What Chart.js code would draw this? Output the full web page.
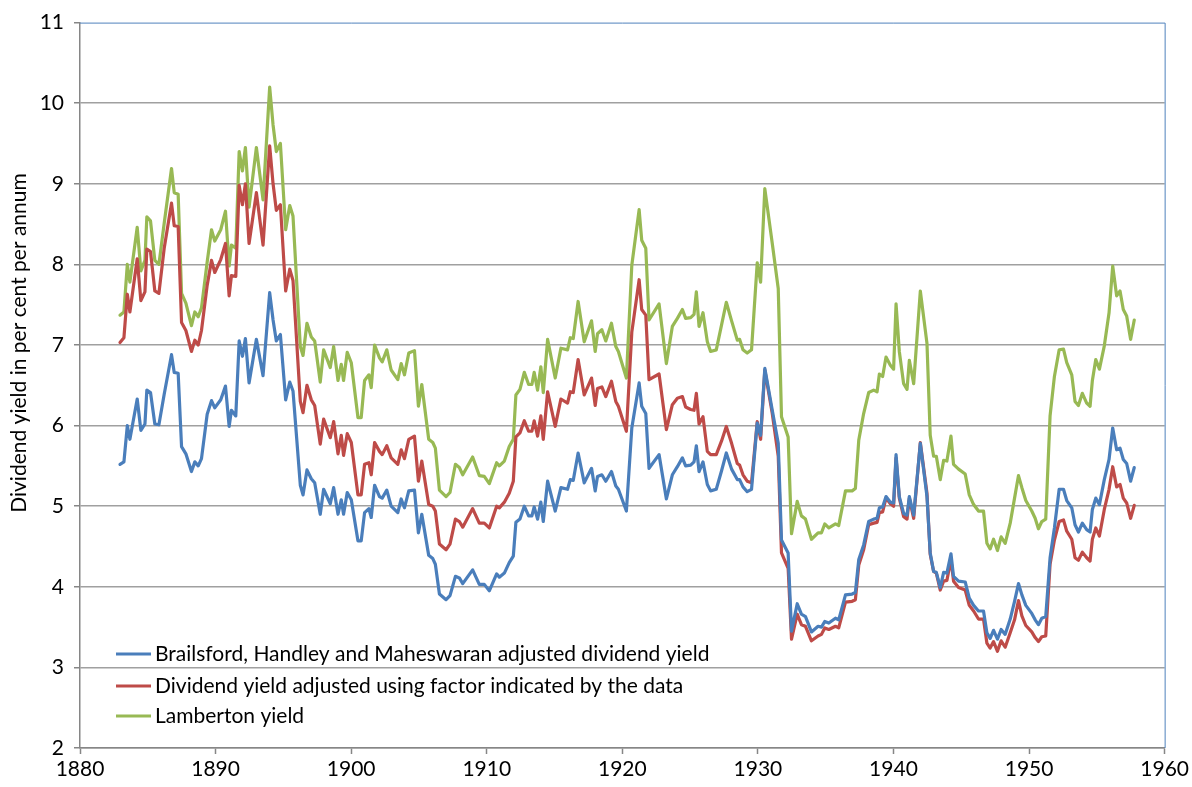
<!DOCTYPE html>
<html lang="en">
<head>
    <meta charset="UTF-8">
    <title>Dividend yield</title>
    <script src="https://cdn.jsdelivr.net/npm/chart.js@4.4.1/dist/chart.umd.min.js"></script>
    <style>
        body{ margin: 0; background: #fff; }
        #wrap{ width: 1192px; height: 787px; }
    </style>
</head>
<body>
<div id="wrap"><canvas id="myChart"></canvas></div>
<script>
    // years (decimal)
    var years = [
        1882.95,1883.24,1883.49,1883.68,1884.22,1884.49,1884.79,1884.93,1885.2,1885.52,
        1885.82,1886.21,1886.75,1886.95,1887.24,1887.49,1887.81,1888.22,1888.47,1888.72,
        1888.96,1889.38,1889.7,1889.94,1890.38,1890.73,1891.0,1891.17,1891.49,1891.74,
        1891.98,1892.2,1892.47,1893.01,1893.5,1893.99,1894.24,1894.48,1894.78,1895.17,
        1895.47,1895.71,1896.25,1896.45,1896.74,1897.06,1897.31,1897.72,1897.97,1898.46,
        1898.71,1899.03,1899.27,1899.44,1899.71,1900.01,1900.5,1900.74,1900.99,1901.31,
        1901.48,1901.73,
        1902.09,1902.29,1902.63,1902.95,1903.44,1903.69,1903.93,1904.25,1904.67,1904.96,
        1905.21,1905.72,1906.02,1906.21,1906.51,1907.0,1907.29,1907.69,1907.98,1908.23,
        1908.96,1909.45,1909.82,1910.19,1910.73,1910.93,1911.3,1911.66,1911.96,1912.15,
        1912.45,1912.77,1913.09,1913.33,1913.5,1913.75,1913.99,1914.17,1914.49,1915.05,
        1915.47,1915.96,1916.16,1916.38,1916.74,1917.19,1917.73,1918.0,1918.17,1918.49,
        1918.78,1919.2,1919.52,1919.71,1920.3,1920.7,1921.24,1921.43,1921.73,1921.97,
        1922.71,
        1923.25,1923.69,1924.06,1924.43,1924.67,1925.04,1925.29,1925.46,1925.66,1925.95,
        1926.27,1926.51,1926.93,1927.32,1927.67,1928.06,1928.48,1928.65,1928.9,1929.21,
        1929.53,1929.95,1930.2,1930.51,1931.06,1931.5,1931.74,1932.23,1932.48,1932.9,
        1933.21,1933.51,1933.95,1934.44,1934.69,1934.93,1935.23,1935.72,1935.96,1936.46,
        1936.95,1937.19,1937.44,1937.8,1938.17,1938.54,1938.79,1938.96,1939.2,1939.45,
        1939.77,1940.01,1940.19,1940.43,1940.75,1941.0,1941.17,1941.49,1941.98,1942.47,
        1942.71,1942.96,1943.16,
        1943.45,1943.7,1943.94,1944.24,1944.43,1944.8,1945.29,1945.59,1945.91,1946.27,
        1946.64,1946.89,1947.13,1947.38,1947.67,1947.94,1948.24,1948.61,1948.93,1949.22,
        1949.47,1949.76,1950.2,1950.45,1950.69,1950.94,1951.23,1951.55,1951.87,1952.22,
        1952.54,1952.78,1953.15,1953.39,1953.64,1953.93,1954.25,1954.5,1954.67,1954.92,
        1955.19,1955.55,1955.9,1956.17,1956.46,1956.71,1956.95,1957.2,1957.49,1957.76
    ];

    // Brailsford, Handley and Maheswaran adjusted dividend yield
    var bhmYield = [
        5.52,5.55,6.0,5.83,6.33,5.94,6.02,6.44,6.41,6.02,
        6.01,6.39,6.88,6.66,6.65,5.74,5.65,5.43,5.55,5.5,
        5.59,6.14,6.31,6.22,6.32,6.49,5.99,6.19,6.12,7.05,
        6.86,7.08,6.53,7.07,6.62,7.65,7.31,7.05,7.13,6.32,
        6.54,6.43,5.26,5.14,5.45,5.34,5.29,4.9,5.21,5.03,
        5.23,4.9,5.08,4.9,5.17,5.08,4.57,4.57,4.92,4.97,
        4.86,5.26,
        5.12,5.10,5.2,5.0,4.92,5.09,4.98,5.19,5.2,4.67,
        4.9,4.39,4.35,4.28,3.91,3.84,3.89,4.13,4.11,4.04,
        4.21,4.03,4.03,3.95,4.16,4.12,4.17,4.3,4.38,4.8,
        4.84,5.0,4.88,4.88,4.99,4.84,5.05,4.81,5.31,4.94,
        5.23,5.21,5.33,5.32,5.66,5.29,5.47,5.19,5.37,5.39,
        5.31,5.43,5.25,5.21,4.94,5.97,6.53,6.24,6.15,5.47,
        5.64,
        5.09,5.39,5.49,5.6,5.5,5.51,5.55,5.75,5.43,5.55,
        5.27,5.19,5.21,5.44,5.66,5.46,5.33,5.33,5.24,5.18,
        5.21,6.03,5.88,6.71,6.19,5.78,4.58,4.42,3.45,3.79,
        3.66,3.63,3.44,3.51,3.5,3.57,3.55,3.61,3.59,3.9,
        3.91,3.93,4.34,4.52,4.81,4.84,4.85,4.98,4.99,5.12,
        5.05,5.04,5.64,5.12,4.91,4.89,5.12,4.89,5.78,5.12,
        4.42,4.19,4.18,
        3.99,4.18,4.17,4.41,4.13,4.07,4.06,3.86,3.77,3.7,
        3.7,3.43,3.36,3.46,3.35,3.47,3.41,3.6,3.82,4.04,
        3.9,3.77,3.67,3.59,3.53,3.61,3.63,4.36,4.73,5.21,
        5.21,5.07,4.98,4.77,4.68,4.79,4.71,4.68,4.96,5.1,
        5.02,5.33,5.58,5.97,5.7,5.72,5.58,5.53,5.31,5.48
    ];

    // Dividend yield adjusted using factor indicated by the data
    var factorYield = [
        7.03,7.09,7.63,7.41,8.07,7.55,7.66,8.19,8.16,7.67,
        7.64,8.2,8.76,8.48,8.47,7.28,7.18,6.92,7.06,7.0,
        7.18,7.74,8.05,7.9,8.06,8.26,7.61,7.86,7.85,8.98,
        8.74,9.0,8.26,8.89,8.24,9.47,9.0,8.67,8.74,7.67,
        7.94,7.8,6.3,6.16,6.5,6.32,6.25,5.77,6.08,5.85,
        6.05,5.65,5.88,5.63,5.9,5.79,5.14,5.14,5.52,5.54,
        5.39,5.79,
        5.68,5.64,5.75,5.6,5.52,5.7,5.59,5.83,5.87,5.31,
        5.56,5.02,5.0,4.94,4.53,4.46,4.53,4.84,4.81,4.74,
        4.97,4.79,4.79,4.73,5.0,4.98,5.05,5.16,5.31,5.86,
        5.91,6.06,5.93,5.93,6.06,5.87,6.12,5.83,6.42,5.99,
        6.33,6.28,6.42,6.41,6.82,6.38,6.59,6.25,6.46,6.48,
        6.36,6.55,6.3,6.24,5.93,7.16,7.81,7.44,7.37,6.57,
        6.64,
        5.95,6.26,6.34,6.36,6.23,6.2,6.19,6.4,6.02,6.11,
        5.68,5.64,5.64,5.81,5.99,5.78,5.53,5.51,5.39,5.31,
        5.29,6.05,5.83,6.69,6.15,5.62,4.42,4.23,3.35,3.66,
        3.53,3.51,3.33,3.39,3.41,3.49,3.47,3.51,3.49,3.81,
        3.82,3.84,4.27,4.46,4.77,4.79,4.8,4.92,4.93,5.1,
        5.03,5.0,5.6,5.1,4.87,4.84,5.1,4.85,5.79,5.16,
        4.4,4.19,4.17,
        3.96,4.07,4.08,4.34,4.07,3.99,3.96,3.77,3.7,3.6,
        3.6,3.3,3.24,3.32,3.2,3.33,3.25,3.43,3.59,3.83,
        3.64,3.52,3.44,3.37,3.32,3.38,3.39,4.28,4.58,4.81,
        4.83,4.69,4.59,4.36,4.33,4.43,4.36,4.32,4.59,4.73,
        4.63,4.96,5.21,5.49,5.24,5.27,5.1,5.04,4.85,5.01
    ];

    // Lamberton yield
    var lambertonYield = [
        7.37,7.41,8.0,7.78,8.46,7.92,8.05,8.59,8.54,8.05,
        8.0,8.51,9.19,8.89,8.87,7.64,7.52,7.24,7.41,7.35,
        7.46,8.03,8.43,8.29,8.43,8.66,7.98,8.24,8.2,9.4,
        9.16,9.45,8.71,9.45,8.8,10.2,9.73,9.4,9.5,8.43,
        8.73,8.6,6.98,6.87,7.27,7.1,7.05,6.54,6.94,6.72,
        6.98,6.56,6.76,6.56,6.91,6.78,6.1,6.1,6.56,6.63,
        6.47,7.0,
        6.84,6.79,6.94,6.69,6.57,6.77,6.63,6.9,6.93,6.24,
        6.51,5.83,5.79,5.72,5.2,5.12,5.17,5.52,5.48,5.39,
        5.61,5.38,5.37,5.28,5.54,5.5,5.56,5.74,5.83,6.38,
        6.45,6.66,6.51,6.51,6.66,6.44,6.73,6.41,7.07,6.59,
        6.96,6.94,7.09,7.08,7.54,7.04,7.3,6.92,7.14,7.19,
        7.05,7.27,6.98,6.92,6.59,7.99,8.68,8.3,8.2,7.31,
        7.51,
        6.77,7.23,7.33,7.44,7.33,7.34,7.38,7.66,7.23,7.4,
        7.04,6.92,6.94,7.25,7.53,7.3,7.06,7.07,6.94,6.9,
        6.94,8.02,7.78,8.94,8.26,7.7,6.11,5.86,4.66,5.06,
        4.88,4.84,4.59,4.67,4.67,4.78,4.73,4.78,4.76,5.19,
        5.19,5.22,5.82,6.15,6.41,6.44,6.42,6.64,6.61,6.85,
        6.75,6.7,7.51,6.92,6.52,6.45,6.81,6.52,7.67,7.02,
        5.88,5.62,5.62,
        5.33,5.57,5.56,5.87,5.52,5.46,5.4,5.14,5.02,4.94,
        4.94,4.54,4.47,4.59,4.45,4.62,4.54,4.79,5.1,5.38,
        5.23,5.07,4.94,4.85,4.72,4.81,4.84,6.12,6.61,6.94,
        6.95,6.78,6.63,6.3,6.25,6.4,6.28,6.24,6.56,6.82,
        6.7,6.99,7.4,7.98,7.61,7.67,7.44,7.36,7.07,7.31
    ];

    var xTicks = [1880, 1960, 10];   // min, max, step
    var yTicks = [2, 11, 1];
    var seriesNames = [
        'Brailsford, Handley and Maheswaran adjusted dividend yield',
        'Dividend yield adjusted using factor indicated by the data',
        'Lamberton yield'
    ];
    var yTitle = 'Dividend yield in per cent per annum';

    var colors = ['#4a7ebb', '#be4b48', '#98b954'];
    var FONT = 'Lato, "Liberation Sans", sans-serif';

    function pts(vals) {
        return years.map(function (y, i) { return { x: y, y: vals[i] }; });
    }

    // plot frame (top/right blue), y title and the legend inside the plot
    var extras = {
        id: 'extras',
        beforeDatasetsDraw: function (chart) {
            var c = chart.ctx, a = chart.chartArea;
            c.save();
            c.strokeStyle = '#4f81bd';
            c.lineWidth = 1;
            c.beginPath();
            c.moveTo(a.left, a.top + 0.5);
            c.lineTo(a.right + 0.5, a.top + 0.5);
            c.lineTo(a.right + 0.5, a.bottom);
            c.stroke();
            c.restore();
        },
        afterDraw: function (chart) {
            var c = chart.ctx, a = chart.chartArea;
            c.save();
            // y title
            c.translate(19, 343);
            c.rotate(-Math.PI / 2);
            c.fillStyle = '#000';
            c.font = '21px ' + FONT;
            c.textAlign = 'center';
            c.textBaseline = 'middle';
            c.fillText(yTitle, 0, 0);
            c.restore();

            // legend
            c.save();
            c.font = '21px ' + FONT;
            c.textBaseline = 'middle';
            var rows = [a.bottom - 94, a.bottom - 62, a.bottom - 32];
            seriesNames.forEach(function (name, i) {
                c.strokeStyle = colors[i];
                c.lineWidth = 3;
                c.beginPath();
                c.moveTo(a.left + 36, rows[i]);
                c.lineTo(a.left + 71, rows[i]);
                c.stroke();
                c.fillStyle = '#000';
                c.fillText(name, a.left + 75, rows[i]);
            });
            c.restore();
        }
    };

    var ctx = document.getElementById('myChart').getContext('2d');
    var myChart = new Chart(ctx, {
        type: 'line',
        data: {
            datasets: [bhmYield, factorYield, lambertonYield].map(function (v, i) {
                return {
                    label: seriesNames[i],
                    data: pts(v),
                    borderColor: colors[i],
                    backgroundColor: colors[i],
                    borderWidth: 3.2,
                    pointRadius: 0,
                    tension: 0,
                    borderJoinStyle: 'round',
                    borderCapStyle: 'round'
                };
            })
        },
        options: {
            responsive: true,
            maintainAspectRatio: false,
            animation: false,
            events: [],
            layout: { padding: { left: 0, top: 22, right: 26, bottom: 0 } },
            plugins: { legend: { display: false }, tooltip: { enabled: false } },
            scales: {
                x: {
                    type: 'linear',
                    min: xTicks[0], max: xTicks[1],
                    afterFit: function (s) { s.height = 39; },
                    ticks: {
                        stepSize: xTicks[2],
                        color: '#000',
                        font: { family: FONT, size: 21 },
                        padding: 3,
                        callback: function (v) { return String(v); }
                    },
                    grid: { drawOnChartArea: false, tickLength: 6, tickColor: '#868686', tickWidth: 1.5 },
                    border: { color: '#868686', width: 1.5 }
                },
                y: {
                    min: yTicks[0], max: yTicks[1],
                    afterFit: function (s) { s.width = 80; },
                    ticks: {
                        stepSize: yTicks[2],
                        color: '#000',
                        font: { family: FONT, size: 21 },
                        padding: 10
                    },
                    grid: {
                        color: function (c) { return c.tick && c.tick.value === 11 ? 'rgba(0,0,0,0)' : '#a0a0a0'; },
                        lineWidth: 1.5,
                        tickLength: 6,
                        tickColor: '#868686'
                    },
                    border: { color: '#868686', width: 1.5 }
                }
            }
        },
        plugins: [extras]
    });
</script>
</body>
</html>
